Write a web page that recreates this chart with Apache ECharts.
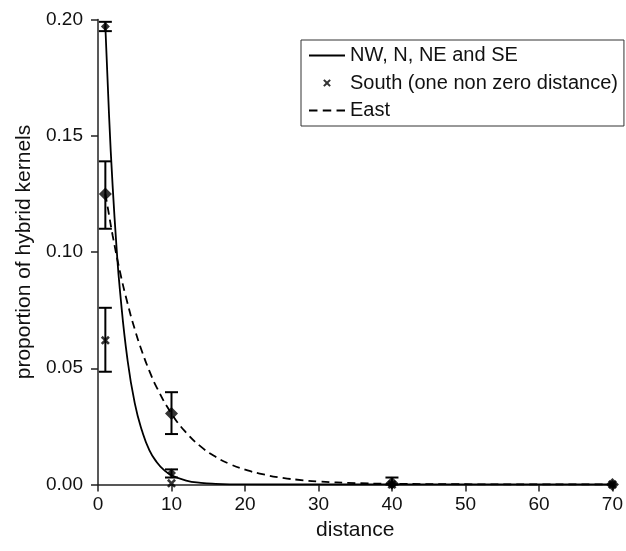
<!DOCTYPE html>
<html>
<head>
<meta charset="utf-8">
<script src="https://cdn.jsdelivr.net/npm/echarts@6/dist/echarts.min.js"></script>
<style>html,body{margin:0;padding:0;background:#fff}#c{width:626px;height:551px}</style>
</head>
<body>
<div id="c"></div>
<script>
// ---- data ----
var xTicks = [0, 10, 20, 30, 40, 50, 60, 70];
var yTicks = [0, 0.05, 0.10, 0.15, 0.20];

// fitted curve, NW, N, NE and SE (solid)
var solidX = [1, 1.5, 2, 2.5, 3, 4, 5, 6, 7, 8, 9, 10, 12, 14, 16, 20, 25, 70];
var solidY = [0.197, 0.159, 0.128, 0.103, 0.083, 0.054, 0.035, 0.023, 0.0147, 0.0096, 0.0062, 0.0040, 0.0017, 0.0007, 0.0003, 0.00005, 0, 0];

// fitted curve, East (dashed)
var eastX = [1, 1.5, 2, 3, 4, 5, 6, 7, 8, 10, 12, 14, 16, 18, 20, 22, 25, 28, 30, 35, 40, 50, 60, 70];
var eastY = [0.125, 0.116, 0.107, 0.0914, 0.0782, 0.0668, 0.0571, 0.0488, 0.0417, 0.0305, 0.0223, 0.0163, 0.0119, 0.0087, 0.0064, 0.0047, 0.0029, 0.0018, 0.0013, 0.0006, 0.0003, 0.0001, 0, 0];

// observed points
var obsX = [1, 10, 40, 70];
var solidObs = [0.197, 0.005, 0, 0];
var solidLo  = [0.195, 0.003, 0, null];
var solidHi  = [0.199, 0.0065, 0.003, null];
var eastObs  = [0.125, 0.0305, 0.0005, 0];
var eastLo   = [0.110, 0.0217, null, null];
var eastHi   = [0.139, 0.0397, null, null];
var southObs = [0.062, 0.0005, 0, 0];
var southLo  = [0.0485, null, null, null];
var southHi  = [0.076, null, null, null];

var nameSolid = 'NW, N, NE and SE';
var nameSouth = 'South (one non zero distance)';
var nameEast = 'East';

// ---- build ----
function pairs(xs, ys) { return xs.map(function (x, i) { return [x, ys[i]]; }); }
function bars(xs, lo, hi) {
  var out = [];
  xs.forEach(function (x, i) { if (lo[i] !== null && hi[i] !== null) out.push([x, lo[i], hi[i]]); });
  return out;
}
var errData = bars(obsX, solidLo, solidHi).concat(bars(obsX, eastLo, eastHi)).concat(bars(obsX, southLo, southHi));

var FONT = '"Liberation Sans", Arial, Helvetica, sans-serif';
var INK = '#111';
var xMark = 'path://M0,2L2,0L5,3L8,0L10,2L7,5L10,8L8,10L5,7L2,10L0,8L3,5Z';
var xMarkLegend = 'path://M0,0M20,20M4.5,6.5L6.5,4.5L10,8L13.5,4.5L15.5,6.5L12,10L15.5,13.5L13.5,15.5L10,12L6.5,15.5L4.5,13.5L8,10Z';
var solidIcon = 'path://M0,0L36,0L36,1.8L0,1.8Z';
var dashIcon = 'path://M0,0L8,0L8,1.8L0,1.8Z M13,0L21,0L21,1.8L13,1.8Z M26,0L34,0L34,1.8L26,1.8Z';

var chart = echarts.init(document.getElementById('c'), null, {renderer: 'canvas'});
chart.setOption({
  animation: false,
  backgroundColor: '#fff',
  textStyle: {fontFamily: FONT, color: INK},
  grid: {left: 98, right: 9, top: 19.5, bottom: 66.5, containLabel: false},
  legend: {
    orient: 'vertical', left: 301, top: 40,
    borderColor: '#333', borderWidth: 1, padding: [5.5, 6, 5.5, 8],
    itemWidth: 36, itemHeight: 14, itemGap: 7.5,
    selectedMode: false,
    itemStyle: {color: '#000', borderWidth: 0},
    textStyle: {fontSize: 20, fontFamily: FONT, color: INK, lineHeight: 20},
    data: [
      {name: nameSolid, icon: solidIcon},
      {name: nameSouth, icon: xMarkLegend},
      {name: nameEast, icon: dashIcon}
    ]
  },
  xAxis: {
    type: 'value', min: xTicks[0], max: xTicks[xTicks.length - 1], interval: 10,
    name: 'distance', nameLocation: 'middle', nameGap: 33,
    nameTextStyle: {fontSize: 21, fontFamily: FONT, color: INK},
    axisLine: {show: true, onZero: true, lineStyle: {color: '#222', width: 1.5}},
    axisTick: {show: true, inside: false, length: 7, lineStyle: {color: '#222', width: 1.5}},
    axisLabel: {fontSize: 19, color: INK, margin: 11, fontFamily: FONT},
    splitLine: {show: false}
  },
  yAxis: {
    type: 'value', min: yTicks[0], max: yTicks[yTicks.length - 1], interval: 0.05,
    name: 'proportion of hybrid kernels', nameLocation: 'middle', nameGap: 60,
    nameTextStyle: {fontSize: 21, fontFamily: FONT, color: INK},
    axisLine: {show: true, lineStyle: {color: '#222', width: 1.5}},
    axisTick: {show: true, length: 7, lineStyle: {color: '#222', width: 1.5}},
    axisLabel: {fontSize: 19, color: INK, margin: 15, fontFamily: FONT,
      formatter: function (v) { return v.toFixed(2); }},
    splitLine: {show: false}
  },
  series: [
    {
      name: nameSolid, type: 'line', smooth: true, symbol: 'none', data: pairs(solidX, solidY),
      lineStyle: {color: '#000', width: 1.8, type: 'solid'}, itemStyle: {color: '#000'}, z: 3
    },
    {
      name: nameEast, type: 'line', smooth: true, symbol: 'none', data: pairs(eastX, eastY),
      lineStyle: {color: '#000', width: 1.8, type: [8, 5]}, itemStyle: {color: '#000'}, z: 3
    },
    {
      name: 'errorbars', type: 'custom', z: 4,
      data: errData,
      renderItem: function (params, api) {
        var x = api.value(0);
        var lo = api.coord([x, api.value(1)]);
        var hi = api.coord([x, api.value(2)]);
        var hw = 6.5;
        var st = {stroke: '#000', lineWidth: 2};
        return {type: 'group', children: [
          {type: 'line', shape: {x1: lo[0], y1: lo[1], x2: hi[0], y2: hi[1]}, style: st},
          {type: 'line', shape: {x1: lo[0] - hw, y1: lo[1], x2: lo[0] + hw, y2: lo[1]}, style: st},
          {type: 'line', shape: {x1: hi[0] - hw, y1: hi[1], x2: hi[0] + hw, y2: hi[1]}, style: st}
        ]};
      }
    },
    {
      name: 'solid points', type: 'scatter', symbol: 'diamond', symbolSize: 9, z: 5,
      data: pairs(obsX, solidObs), itemStyle: {color: '#000'}
    },
    {
      name: 'east points', type: 'scatter', symbol: 'diamond', symbolSize: 13, z: 5,
      data: pairs(obsX, eastObs), itemStyle: {color: '#000'}
    },
    {
      name: nameSouth, type: 'scatter', symbol: xMark, symbolSize: 9, z: 6,
      data: pairs(obsX, southObs), itemStyle: {color: '#000'}
    }
  ]
});
</script>
</body>
</html>
